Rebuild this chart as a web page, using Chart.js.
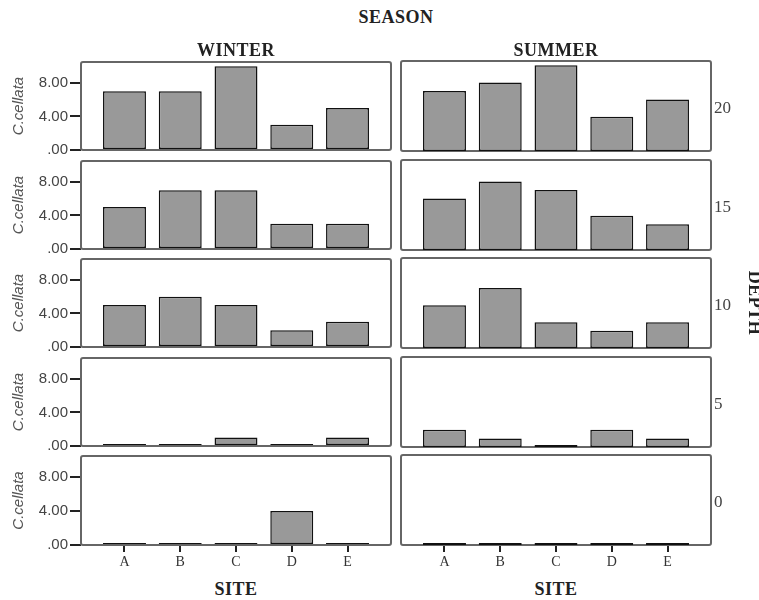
<!DOCTYPE html>
<html>
<head>
<meta charset="utf-8">
<script src="https://cdn.jsdelivr.net/npm/chart.js@4"></script>
<style>
  body { margin: 0; background: #fff; }
  #wrap { position: relative; width: 759px; height: 600px; overflow: hidden; }
  canvas { position: absolute; }
  .lbl { position: absolute; transform: translate(-50%, -50%); white-space: nowrap;
         font-family: "Liberation Serif", serif; color: #222; }
  .head { font-weight: bold; font-size: 18px; letter-spacing: 0.5px; }
  .depth { position: absolute; font-family: "Liberation Serif", serif; font-size: 17px; color: #444;
           transform: translateY(-50%); }
</style>
</head>
<body>
<div id="wrap"></div>
<script>
const sites = ['A', 'B', 'C', 'D', 'E'];
const depths = ['20', '15', '10', '5', '0'];
const yTicks = [0, 4, 8];
// C.cellata per site, one row per depth (20 .. 0)
const winter = [
    [7, 7, 10, 3, 5],
    [5, 7, 7, 3, 3],
    [5, 6, 5, 2, 3],
    [0, 0, 1, 0, 1],
    [0, 0, 0, 4, 0]
];
const summer = [
    [7, 8, 10, 4, 6],
    [6, 8, 7, 4, 3],
    [5, 7, 3, 2, 3],
    [2, 1, 0, 2, 1],
    [0, 0, 0, 0, 0]
];

const rowTops = [61, 160, 258, 357, 455];
const panelH = 90;
const wrap = document.getElementById('wrap');

// frame round each panel
const framePlugin = {
    id: 'frame',
    beforeDatasetsDraw(chart) {
        const a = chart.chartArea;
        const ctx = chart.ctx;
        ctx.save();
        ctx.strokeStyle = '#666';
        ctx.lineWidth = 2;
        ctx.beginPath();
        ctx.roundRect(a.left, a.top, a.right - a.left, a.bottom - a.top, 2);
        ctx.stroke();
        ctx.restore();
    }
};

function addLabel(text, x, y, cls) {
    const d = document.createElement('div');
    d.className = cls;
    d.textContent = text;
    d.style.left = x + 'px';
    d.style.top = y + 'px';
    wrap.appendChild(d);
    return d;
}

function makePanel(values, row, isLeft) {
    const isBottom = row === depths.length - 1;
    const c = document.createElement('canvas');
    const w = isLeft ? 395 : 364;
    const h = 10 + panelH + (isBottom ? 30 : 10);
    c.width = w;
    c.height = h;
    c.style.left = (isLeft ? 0 : 395) + 'px';
    c.style.top = (rowTops[row] - 10) + 'px';
    wrap.appendChild(c);

    new Chart(c, {
        type: 'bar',
        data: {
            datasets: [{
                data: values.map((v, i) => ({x: i, y: v})),
                backgroundColor: '#999999',
                borderColor: '#111',
                borderWidth: 1.5,
                borderSkipped: false,
                barPercentage: 0.77,
                categoryPercentage: 1,
                minBarLength: 2
            }]
        },
        options: {
            responsive: false,
            animation: false,
            layout: {
                padding: {
                    top: 10,
                    bottom: isBottom ? 0 : 10,
                    left: isLeft ? 0 : 6,
                    right: isLeft ? 4 : 48
                }
            },
            plugins: {
                legend: {display: false},
                tooltip: {enabled: false}
            },
            scales: {
                x: {
                    type: 'linear',
                    offset: false,
                    min: -0.78,
                    max: 4.78,
                    display: isBottom,
                    afterBuildTicks: s => { s.ticks = sites.map((n, i) => ({value: i})); },
                    afterFit: s => { s.height = isBottom ? 30 : 0; },
                    border: {display: false},
                    grid: {offset: false, drawOnChartArea: false, tickLength: 7, color: '#222', lineWidth: 2},
                    ticks: {
                        callback: v => sites[v],
                        color: '#333',
                        padding: 2,
                        maxRotation: 0,
                        font: {family: 'Liberation Serif', size: 14}
                    }
                },
                y: {
                    min: 0,
                    max: 10.5,
                    display: isLeft,
                    afterBuildTicks: s => { s.ticks = yTicks.map(v => ({value: v})); },
                    afterFit: s => { s.width = isLeft ? 81 : 0; },
                    border: {display: false},
                    grid: {drawOnChartArea: false, tickLength: 11, color: '#222', lineWidth: 2},
                    ticks: {
                        callback: v => v === 0 ? '.00' : v.toFixed(2),
                        color: '#444',
                        padding: 2,
                        font: {family: 'Liberation Sans', size: 15}
                    },
                    title: {
                        display: true,
                        text: 'C.cellata',
                        color: '#555',
                        padding: {top: 10, bottom: 0},
                        font: {family: 'Liberation Sans', size: 15, style: 'italic'}
                    }
                }
            }
        },
        plugins: [framePlugin]
    });
}

depths.forEach((d, row) => {
    makePanel(winter[row], row, true);
    makePanel(summer[row], row, false);
    addLabel(d, 714, rowTops[row] + panelH / 2 + 2, 'depth');
});

addLabel('SEASON', 396, 17, 'lbl head');
addLabel('WINTER', 236, 50, 'lbl head');
addLabel('SUMMER', 556, 50, 'lbl head');
addLabel('SITE', 236, 589, 'lbl head');
addLabel('SITE', 556, 589, 'lbl head');
const dep = addLabel('DEPTH', 754, 303, 'lbl head');
dep.style.transform = 'translate(-50%, -50%) rotate(90deg)';
</script>
</body>
</html>
